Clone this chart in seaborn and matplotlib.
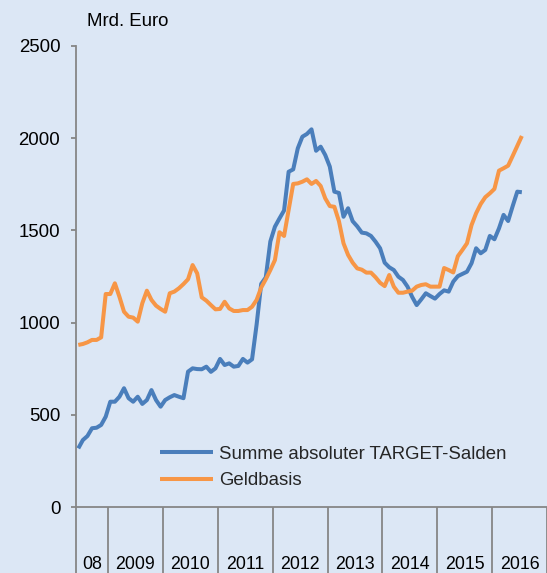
import numpy as np
import pandas as pd
import matplotlib
matplotlib.use("Agg")
import matplotlib.pyplot as plt
import seaborn as sns
from matplotlib.ticker import FixedLocator, NullFormatter

# ---------------- data ----------------
start_month = "2008-06"
end_month = "2016-07"
axis_end_month = "2016-12"

series_names = ["Summe absoluter TARGET-Salden", "Geldbasis"]

target_salden = [
    318, 363, 385, 427, 430, 445, 490, 571, 571, 598, 644, 590,
    571, 598, 559, 580, 634, 580, 544, 580, 595, 607, 598, 590,
    734, 752, 748, 747, 761, 733, 752, 803, 770, 779, 761, 765,
    803, 783, 801, 990, 1210, 1245, 1440, 1520, 1565, 1608, 1818, 1831,
    1945, 2008, 2023, 2048, 1932, 1954, 1909, 1846, 1710, 1703, 1574, 1620,
    1550, 1522, 1488, 1484, 1470, 1439, 1403, 1325, 1300, 1285, 1249, 1231,
    1195, 1140, 1095, 1126, 1159, 1144, 1130, 1155, 1175, 1168, 1222, 1252,
    1264, 1276, 1322, 1403, 1376, 1394, 1470, 1452, 1511, 1584, 1551, 1632,
    1710, 1707,
]

geldbasis = [
    879, 884, 893, 906, 906, 920, 1155, 1155, 1213, 1140, 1059, 1032,
    1027, 1005, 1105, 1173, 1123, 1092, 1074, 1059, 1159, 1168, 1186, 1209,
    1235, 1312, 1267, 1137, 1119, 1095, 1072, 1074, 1113, 1077, 1063, 1063,
    1068, 1068, 1086, 1123, 1190, 1235, 1285, 1339, 1490, 1470, 1611, 1752,
    1755, 1764, 1777, 1752, 1768, 1741, 1674, 1632, 1628, 1550, 1430, 1367,
    1325, 1294, 1287, 1271, 1271, 1246, 1216, 1198, 1258, 1195, 1162, 1162,
    1168, 1173, 1195, 1204, 1208, 1195, 1195, 1195, 1296, 1285, 1272, 1360,
    1394, 1430, 1529, 1593, 1643, 1680, 1701, 1725, 1824, 1837, 1851, 1904,
    1958, 2012,
]

year_labels = ["08", "2009", "2010", "2011", "2012", "2013", "2014", "2015", "2016"]
y_ticks = [0, 500, 1000, 1500, 2000, 2500]
unit_label = "Mrd. Euro"

# ---------------- build frames ----------------
months = pd.period_range(start_month, end_month, freq="M")
axis_months = pd.period_range(start_month, axis_end_month, freq="M")
idx = np.arange(len(months))

df = pd.DataFrame({"idx": idx,
                   series_names[0]: target_salden,
                   series_names[1]: geldbasis})
long = df.melt(id_vars="idx", var_name="Serie", value_name="Wert")

# ---------------- style ----------------
sns.set_theme(style="white")
plt.rcParams["font.family"] = ["Liberation Sans", "DejaVu Sans"]

bg = "#DCE7F5"
gray = "#868686"
blue = "#4A7EBB"
orange = "#F79646"
fs = 13.4

W, H = 547, 573
fig = plt.figure(figsize=(W / 100, H / 100), dpi=100, facecolor=bg)
ax = fig.add_axes([76 / W, 66 / H, 1 - 76 / W, 461 / H])
ax.set_facecolor(bg)

sns.lineplot(data=long, x="idx", y="Wert", hue="Serie",
             hue_order=series_names,
             palette={series_names[0]: blue, series_names[1]: orange},
             linewidth=2.9, ax=ax, legend=False)
for ln in ax.lines:
    ln.set_solid_joinstyle("round")
    ln.set_solid_capstyle("butt")

# axis limits
ax.set_xlim(-0.5, len(axis_months) - 0.5)
ax.set_ylim(0, 2500)

# y axis
ax.set_yticks(y_ticks)
ax.set_yticklabels([str(v) for v in y_ticks])
ax.tick_params(axis="y", which="major", left=True, length=3.8, width=1.3,
               color=gray, direction="out", pad=7.5, labelsize=fs,
               labelcolor="black")

# x axis: year separators (minor, long ticks) + centred year labels
bounds = [-0.5] + [i - 0.5 for i, m in enumerate(axis_months) if m.month == 1] \
         + [len(axis_months) - 0.5]
centers = [(a + b) / 2 for a, b in zip(bounds[:-1], bounds[1:])]
ax.xaxis.set_minor_locator(FixedLocator(bounds))
ax.xaxis.set_minor_formatter(NullFormatter())
ax.set_xticks(centers)
ax.set_xticklabels(year_labels)
ax.tick_params(axis="x", which="major", bottom=True, length=0, pad=35,
               labelsize=fs - 0.6, labelcolor="black")
ax.tick_params(axis="x", which="minor", bottom=True, length=50, width=1.3,
               color=gray, direction="out")

for s in ["top", "right"]:
    ax.spines[s].set_visible(False)
for s in ["left", "bottom"]:
    ax.spines[s].set_color(gray)
    ax.spines[s].set_linewidth(1.3)

ax.set_xlabel("")
ax.set_ylabel("")

# unit label
fig.text(87 / W, 1 - 22 / H, unit_label, fontsize=fs, ha="left",
         va="center", color="black")

# legend
handles = ax.lines[:2]
leg = fig.legend(handles, series_names, loc="center left",
                 bbox_to_anchor=(160 / W, 1 - 467.5 / H),
                 frameon=False, fontsize=fs, handlelength=2.85,
                 handletextpad=0.3, labelspacing=0.5, borderpad=0,
                 borderaxespad=0)

fig.savefig("out.png", dpi=100, facecolor=bg)
